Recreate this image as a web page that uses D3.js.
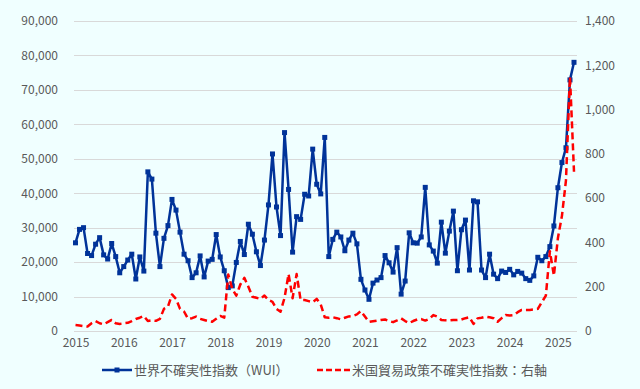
<!DOCTYPE html>
<html>
<head>
<meta charset="utf-8">
<script src="https://cdn.jsdelivr.net/npm/d3@7"></script>
<style>
  html, body { margin: 0; padding: 0; background: #F0FFFF; }
  svg { display: block; font-family: "Noto Sans CJK JP", "Noto Sans", sans-serif; }
</style>
</head>
<body>
<svg id="chart" width="640" height="389"></svg>
<script>
// ---- Data (monthly, 2015-01 .. 2025-05) ----
const startYear = 2015;
const wui = [
  25600, 29500, 30000, 22500, 21900, 25200, 27100, 22100, 20900, 25400, 21600, 16900,
  18700, 20600, 22300, 15100, 21500, 17400, 46200, 44100, 28400, 18700, 26900, 30600,
  38200, 35100, 28700, 22300, 20400, 15500, 16900, 21800, 15700, 20300, 20800, 28000,
  21500, 17500, 12600, 13100, 19900, 26000, 22200, 31000, 28100, 23000, 19000, 26400,
  36600, 51400, 36000, 27700, 57600, 41100, 22900, 33200, 32400, 39700, 39200, 52800,
  42600, 39800, 56200, 21600, 26600, 28700, 27300, 23300, 26400, 28400, 25300, 15000,
  11900, 9200, 13900, 14800, 15500, 21900, 19800, 17100, 24200, 10700, 14500, 28500,
  25600, 25500, 27300, 41700, 25000, 23200, 19700, 31600, 22600, 29000, 34800, 17500,
  29400, 32200, 17700, 37800, 37500, 17700, 15500, 22300, 16500, 15200, 17400, 17000,
  17900, 16300, 17300, 16800, 15200, 14700, 16000, 21400, 20400, 21600, 24500, 30500,
  41600, 48900, 53200, 72900, 78000
];
const tpu = [
  27, 25, 22, 20, 35, 45, 35, 30, 40, 50, 35, 32,
  35, 37, 45, 54, 60, 68, 45, 48, 46, 55, 100, 110,
  165, 145, 100, 88, 55, 58, 65, 55, 50, 45, 42, 55,
  68, 60, 255, 190, 160, 210, 240, 200, 155, 150, 145, 160,
  140, 132, 100, 87, 150, 257, 148, 257, 140, 140, 135, 130,
  145, 120, 62, 60, 62, 58, 53, 60, 66, 68, 75, 90,
  65, 41, 44, 47, 50, 52, 45, 40, 48, 57, 45, 36,
  45, 52, 54, 47, 55, 72, 65, 50, 48, 48, 50, 50,
  52, 58, 62, 32, 57, 60, 65, 62, 58, 42, 58, 72,
  70, 72, 85, 95, 95, 95, 97, 100, 130, 160, 360, 250,
  420, 520, 680, 1148, 719
];
const months = wui.map((d, i) => {
  const y = startYear + Math.floor(i / 12), m = (i % 12) + 1;
  return y + "-" + String(m).padStart(2, "0");
});
const yearLabels = ["2015","2016","2017","2018","2019","2020","2021","2022","2023","2024","2025"];
const leftTicks = [0, 10000, 20000, 30000, 40000, 50000, 60000, 70000, 80000, 90000];
const rightTicks = [0, 200, 400, 600, 800, 1000, 1200, 1400];
const seriesNames = ["世界不確実性指数（WUI）", "米国貿易政策不確実性指数：右軸"];

// ---- Layout ----
const svg = d3.select("#chart");
const W = 640, H = 389;
const plot = { left: 74, right: 577, top: 21, bottom: 331 };
const textColor = "#595959";
const blue = "#003399", red = "#FF0000";

svg.append("rect").attr("width", W).attr("height", H).attr("fill", "#F0FFFF");

const x = d3.scalePoint().domain(months).range([75.5, 574]);
const yL = d3.scaleLinear().domain([0, 90000]).range([plot.bottom, plot.top]);
const yR = d3.scaleLinear().domain([0, 1400]).range([plot.bottom, plot.top]);

// gridlines
svg.append("g").selectAll("line").data(leftTicks).join("line")
  .attr("x1", plot.left).attr("x2", plot.right)
  .attr("y1", d => Math.round(yL(d)) + 0.5).attr("y2", d => Math.round(yL(d)) + 0.5)
  .attr("stroke", "#D9D9D9").attr("stroke-width", 1.2);

// left axis
const fmt = d3.format(",");
const leftAxis = d3.axisLeft(yL).tickValues(leftTicks).tickFormat(fmt).tickSize(0).tickPadding(0);
const gL = svg.append("g").attr("transform", "translate(58,0)").call(leftAxis);
gL.select(".domain").remove();
gL.selectAll("text").attr("fill", textColor).attr("font-size", 12)
  .attr("font-family", "'Noto Sans CJK JP', sans-serif");

// right axis
const rightAxis = d3.axisRight(yR).tickValues(rightTicks).tickFormat(fmt).tickSize(0).tickPadding(0);
const gR = svg.append("g").attr("transform", "translate(585,0)").call(rightAxis);
gR.select(".domain").remove();
gR.selectAll("text").attr("fill", textColor).attr("font-size", 12)
  .attr("font-family", "'Noto Sans CJK JP', sans-serif");

// bottom axis (year labels at each January)
const janMonths = yearLabels.map(y => y + "-01");
const bottomAxis = d3.axisBottom(x).tickValues(janMonths).tickFormat(d => d.slice(0, 4)).tickSize(0).tickPadding(0);
const gB = svg.append("g").attr("transform", "translate(0,338)").call(bottomAxis);
gB.select(".domain").remove();
gB.selectAll("text").attr("fill", textColor).attr("font-size", 12)
  .attr("font-family", "'Noto Sans CJK JP', sans-serif");

// WUI line
const lineL = d3.line().x((d, i) => x(months[i])).y(d => yL(d));
svg.append("path").datum(wui).attr("d", lineL)
  .attr("fill", "none").attr("stroke", blue).attr("stroke-width", 2.5)
  .attr("stroke-linejoin", "round");
svg.append("g").selectAll("rect").data(wui).join("rect")
  .attr("x", (d, i) => x(months[i]) - 2.5).attr("y", d => yL(d) - 2.5)
  .attr("width", 5).attr("height", 5).attr("fill", blue);

// TPU line (right axis)
const lineR = d3.line().x((d, i) => x(months[i])).y(d => yR(d));
svg.append("path").datum(tpu).attr("d", lineR)
  .attr("fill", "none").attr("stroke", red).attr("stroke-width", 2.5)
  .attr("stroke-dasharray", "7,4").attr("stroke-linejoin", "round");

// legend
const lg = svg.append("g");
lg.append("line").attr("x1", 102).attr("x2", 132).attr("y1", 370).attr("y2", 370)
  .attr("stroke", blue).attr("stroke-width", 2.5);
lg.append("rect").attr("x", 114.5).attr("y", 367.5).attr("width", 5).attr("height", 5).attr("fill", blue);
lg.append("text").attr("x", 134).attr("y", 370).attr("dy", "0.35em")
  .attr("font-size", 13).attr("fill", textColor).text(seriesNames[0]);
lg.append("line").attr("x1", 317).attr("x2", 350).attr("y1", 370).attr("y2", 370)
  .attr("stroke", red).attr("stroke-width", 2.5).attr("stroke-dasharray", "6,3");
lg.append("text").attr("x", 352).attr("y", 370).attr("dy", "0.35em")
  .attr("font-size", 13).attr("fill", textColor).text(seriesNames[1]);
</script>
</body>
</html>
